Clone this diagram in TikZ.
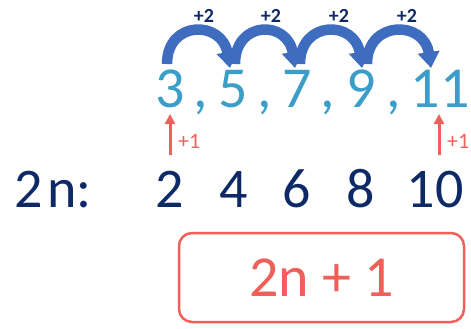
\documentclass[tikz,border=0pt]{standalone}
\usepackage{fontspec}
\setmainfont{Carlito}
\usetikzlibrary{arrows.meta}
\definecolor{teal}{RGB}{58,158,200}
\definecolor{navy}{RGB}{14,42,102}
\definecolor{redc}{RGB}{240,96,90}
\definecolor{arcblue}{RGB}{62,108,190}
\begin{document}
\begin{tikzpicture}[x=1pt,y=-1pt,
  topnum/.style={inner sep=0pt,anchor=base,text=teal,font=\fontsize{58}{60}\selectfont},
  botnum/.style={inner sep=0pt,anchor=base,text=navy,font=\fontsize{56}{60}\selectfont},
  plustwo/.style={inner sep=0pt,anchor=base,text=navy,font=\fontsize{20}{22}\selectfont\bfseries},
  plusone/.style={inner sep=0pt,anchor=base west,text=redc,font=\fontsize{22}{24}\selectfont},
  jump/.style={draw=arcblue,line width=10.5pt,-{Triangle[width=21pt,length=16pt]}},
  uparrow/.style={draw=redc,line width=3pt,-{Triangle[width=10pt,length=10pt]}},
  formulabox/.style={draw=redc,line width=2.5pt,rounded corners=13pt,minimum width=285pt,minimum height=89pt,inner sep=0pt,text=redc,font=\fontsize{58}{60}\selectfont}
]
\useasboundingbox (0,0) rectangle (471,329);
% top row
\node[topnum] (t3) at (170,107) {3};
\node[topnum] (c1) at (201,107) {,};
\node[topnum] (t5) at (233,107) {5};
\node[topnum] (c2) at (265,107) {,};
\node[topnum] (t7) at (297,107) {7};
\node[topnum] (c3) at (328,107) {,};
\node[topnum] (t9) at (361,107) {9};
\node[topnum] (c4) at (394,107) {,};
\node[topnum] (t11) at (440,107) {11};
% bottom row
\node[botnum,anchor=base west] (lab) at (14,207) {2\kern5pt n:};
\node[botnum] (b2) at (170,207) {2};
\node[botnum] (b4) at (234,207) {4};
\node[botnum] (b6) at (297,207) {6};
\node[botnum] (b8) at (361,207) {8};
\node[botnum] (b10) at (435,207) {10};
% arc coordinates
\coordinate (s1) at (167,64);
\coordinate (e1) at (230,68);
\coordinate (s2) at (235,64);
\coordinate (e2) at (295,68);
\coordinate (s3) at (300,64);
\coordinate (e3) at (362,68);
\coordinate (s4) at (367,64);
\coordinate (e4) at (431,68);
\draw[jump] (s1) .. controls (167,20) and (222,20) .. (e1);
\draw[jump] (s2) .. controls (235,20) and (288,20) .. (e2);
\draw[jump] (s3) .. controls (300,20) and (355,20) .. (e3);
\draw[jump] (s4) .. controls (367,20) and (424,20) .. (e4);
\node[plustwo] (p1) at (204,23) {+2};
\node[plustwo] (p2) at (271,23) {+2};
\node[plustwo] (p3) at (339,23) {+2};
\node[plustwo] (p4) at (407,23) {+2};
% red arrows
\coordinate (a1s) at (170,155);
\coordinate (a1e) at (170,114);
\coordinate (a2s) at (439,155);
\coordinate (a2e) at (439,114);
\draw[uparrow] (a1s) -- (a1e);
\draw[uparrow] (a2s) -- (a2e);
\node[plusone] (o1) at (178,148) {+1};
\node[plusone] (o2) at (447,148) {+1};
% formula box
\node[formulabox] (f) at (321.5,277.5) {2n + 1};
\end{tikzpicture}
\end{document}
